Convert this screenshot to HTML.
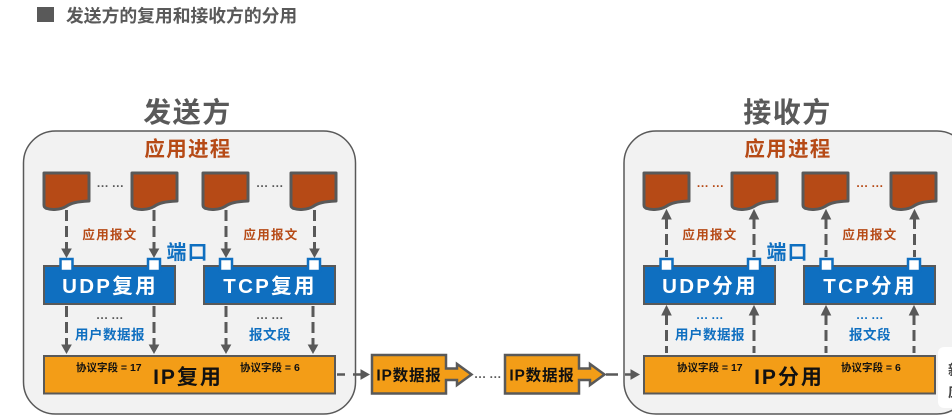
<!DOCTYPE html>
<html><head><meta charset="utf-8"><style>
html,body{margin:0;padding:0;background:#fff;width:952px;height:418px;overflow:hidden}
svg{display:block;filter:blur(0.35px)}
text{font-family:"Liberation Sans","Noto Sans CJK SC",sans-serif;font-weight:700}
</style></head><body>
<svg width="952" height="418" viewBox="0 0 952 418" xmlns="http://www.w3.org/2000/svg">
<defs>
<path id="doc" d="M0 0H45V28C33 28.500 27 30 22 33.500C16 37 7 37 3 35.500C1 35 0 33.500 0 32Z" fill="#b64a16" stroke="#595959" stroke-width="3" stroke-linejoin="round"/>
<g id="down"><path d="M0 0V40" stroke="#595959" stroke-width="3" stroke-dasharray="11 5" fill="none"/><path d="M-4.500 0H4.500L0 8Z" transform="translate(0 39)" fill="#595959" stroke="#595959"/></g>
<g id="up"><path d="M0 8V47" stroke="#595959" stroke-width="3" stroke-dasharray="11 5" fill="none"/><path d="M-4.500 9H4.500L0 0Z" fill="#595959" stroke="#595959"/></g>
<rect id="port" x="-6" y="-6" width="12" height="12" fill="#fff" stroke="#0f6fc0" stroke-width="2.500"/>
</defs>
<rect width="952" height="418" fill="#fff"/>
<rect x="37" y="7" width="17" height="15" fill="#595959"/>
<text x="66" y="22" font-size="17.800" fill="#595959">发送方的复用和接收方的分用</text>

<text x="187.500" y="122" font-size="28" fill="#595959" text-anchor="middle" letter-spacing="1.500">发送方</text>
<text x="787.500" y="122" font-size="28" fill="#595959" text-anchor="middle" letter-spacing="1.500">接收方</text>

<rect x="23.500" y="131" width="332" height="283" rx="32" fill="#f2f2f2" stroke="#595959" stroke-width="1.500"/>
<rect x="624" y="131" width="345" height="283" rx="32" fill="#f2f2f2" stroke="#595959" stroke-width="1.500"/>
<text x="188" y="156" font-size="20.500" fill="#b64a16" text-anchor="middle" letter-spacing="1.300">应用进程</text>
<text x="788" y="156" font-size="20.500" fill="#b64a16" text-anchor="middle" letter-spacing="1.300">应用进程</text>

<use href="#doc" x="44" y="173"/><use href="#doc" x="132" y="173"/><use href="#doc" x="203" y="173"/><use href="#doc" x="291" y="173"/>
<use href="#doc" x="644" y="173"/><use href="#doc" x="732" y="173"/><use href="#doc" x="803" y="173"/><use href="#doc" x="891" y="173"/>
<g fill="#595959"><text x="110.500" y="190" font-size="12" text-anchor="middle">··· ···</text><text x="270" y="190" font-size="12" text-anchor="middle">··· ···</text></g>
<g fill="#b64a16"><text x="710.500" y="190" font-size="12" text-anchor="middle">··· ···</text><text x="870" y="190" font-size="12" text-anchor="middle">··· ···</text></g>

<use href="#down" x="66.500" y="210"/><use href="#down" x="154" y="210"/><use href="#down" x="226" y="210"/><use href="#down" x="314.500" y="210"/>
<use href="#down" x="66.500" y="306"/><use href="#down" x="154" y="306"/><use href="#down" x="226" y="306"/><use href="#down" x="313" y="306"/>
<use href="#up" x="666.500" y="210"/><use href="#up" x="754" y="210"/><use href="#up" x="826" y="210"/><use href="#up" x="914.500" y="210"/>
<use href="#up" x="666.500" y="306"/><use href="#up" x="754" y="306"/><use href="#up" x="826" y="306"/><use href="#up" x="914" y="306"/>

<g font-size="12.500" fill="#b64a16" text-anchor="middle" letter-spacing="1.300">
<text x="110" y="239">应用报文</text><text x="271" y="239">应用报文</text>
<text x="710" y="239">应用报文</text><text x="870" y="239">应用报文</text>
</g>
<text x="187.500" y="259" font-size="20" fill="#0f6fc0" text-anchor="middle" letter-spacing="1">端口</text>
<text x="787.500" y="259" font-size="20" fill="#0f6fc0" text-anchor="middle" letter-spacing="1">端口</text>

<g fill="#0f6fc0" stroke="#595959" stroke-width="2">
<rect x="44" y="266" width="131" height="38"/><rect x="204" y="266" width="131" height="38"/>
<rect x="644" y="266" width="131" height="38"/><rect x="804" y="266" width="131" height="38"/>
</g>
<use href="#port" x="66.500" y="265"/><use href="#port" x="154" y="265"/><use href="#port" x="226" y="265"/><use href="#port" x="314" y="265"/>
<use href="#port" x="666.500" y="265"/><use href="#port" x="754" y="265"/><use href="#port" x="826.500" y="265"/><use href="#port" x="914" y="265"/>
<g fill="#fff" font-size="20.500" text-anchor="middle" letter-spacing="2.300">
<text x="110" y="293">UDP复用</text><text x="270" y="293">TCP复用</text>
<text x="710" y="293">UDP分用</text><text x="870" y="293">TCP分用</text>
</g>

<g fill="#0f6fc0" text-anchor="middle">
<g fill="#595959" font-size="12"><text x="110" y="322">··· ···</text><text x="270" y="322">··· ···</text></g>
<text x="710" y="322" font-size="12">··· ···</text><text x="870" y="322" font-size="12">··· ···</text>
<g font-size="13.500" letter-spacing="0.500">
<text x="110" y="339.500">用户数据报</text><text x="270" y="339.500">报文段</text>
<text x="710" y="339.500">用户数据报</text><text x="870" y="339.500">报文段</text>
</g></g>

<g fill="#f39d17" stroke="#595959" stroke-width="2">
<rect x="44" y="356" width="291" height="37.500"/><rect x="644" y="356" width="291" height="37.500"/>
</g>
<g fill="#111" font-size="10.500">
<text x="76" y="371">协议字段 = 17</text><text x="240" y="371">协议字段 = 6</text>
<text x="677" y="371">协议字段 = 17</text><text x="841" y="371">协议字段 = 6</text>
</g>
<g fill="#111" font-size="21" text-anchor="middle" letter-spacing="2">
<text x="188" y="384">IP复用</text><text x="789" y="384">IP分用</text>
</g>

<path d="M337 374.500H345M353 374.500H362" stroke="#595959" stroke-width="2.500" fill="none"/>
<path d="M361 370V379L369 374.500Z" fill="#595959" stroke="#595959"/>
<path d="M606 374.500H618M625 374.500H632" stroke="#595959" stroke-width="2.500" fill="none"/>
<path d="M631 370V379L639 374.500Z" fill="#595959" stroke="#595959"/>

<path d="M372 355H446V368.500H457V364L471.500 374.500L457 385V380H446V393.500H372Z" fill="#f39d17" stroke="#595959" stroke-width="2.500"/>
<path d="M505 355H579V368.500H590V364L604.500 374.500L590 385V380H579V393.500H505Z" fill="#f39d17" stroke="#595959" stroke-width="2.500"/>
<g fill="#111" font-size="15.500" text-anchor="middle" letter-spacing="0.800">
<text x="409" y="380.500">IP数据报</text><text x="542" y="380.500">IP数据报</text>
</g>
<text x="488" y="381" font-size="12" fill="#595959" text-anchor="middle">··· ···</text>

<rect x="938" y="347" width="30" height="61" rx="6" fill="#fff"/>
<g font-size="14" fill="#444"><text x="948" y="375">新</text><text x="948" y="397">应</text></g>
</svg>
</body></html>
